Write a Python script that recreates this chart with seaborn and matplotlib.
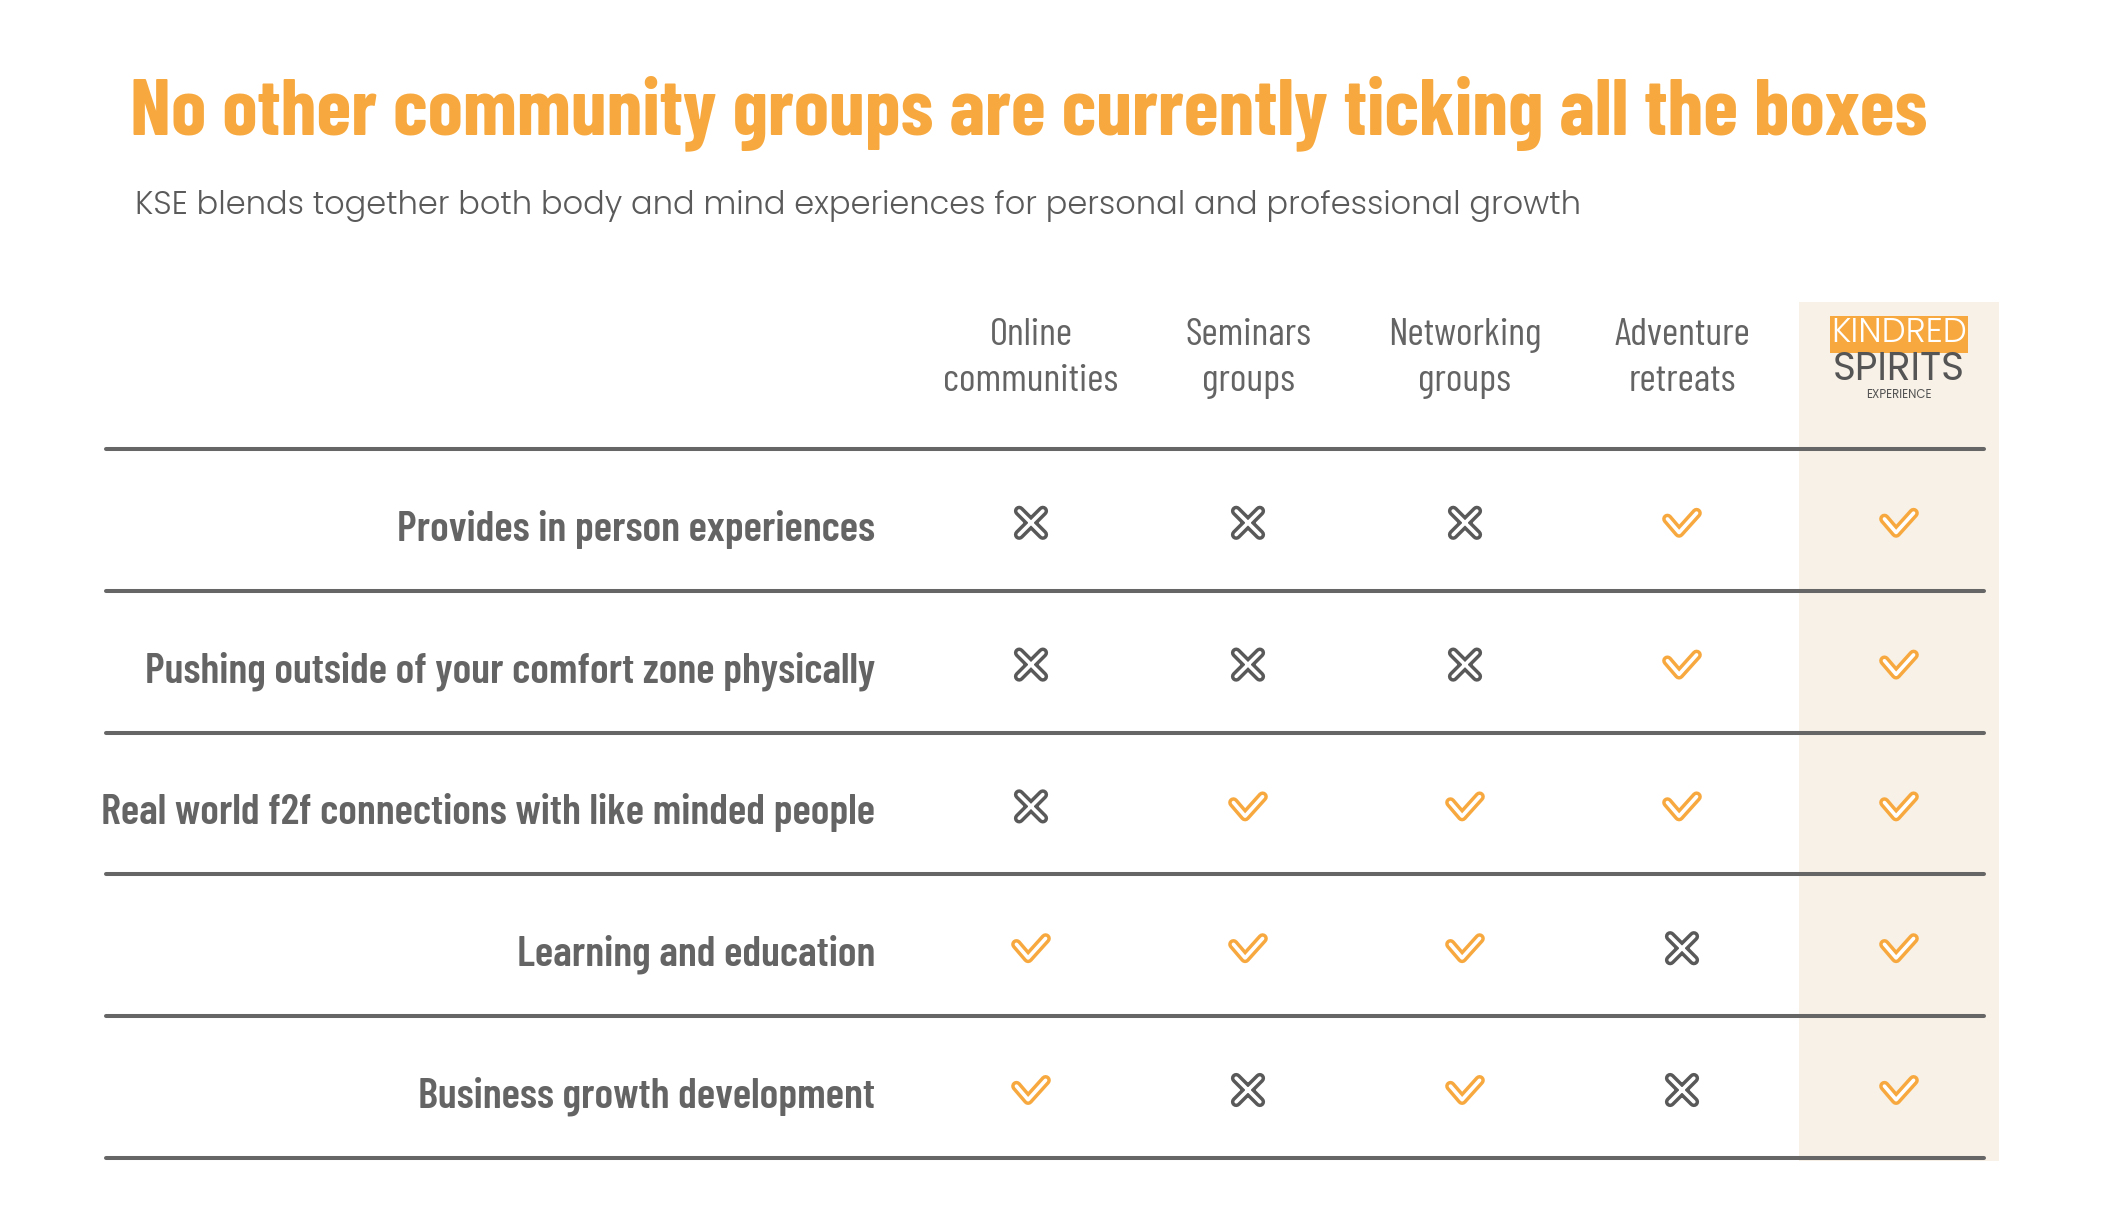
import numpy as np
import pandas as pd
import matplotlib
matplotlib.use("Agg")
import matplotlib.pyplot as plt
import matplotlib.patheffects as pe
from matplotlib.path import Path
from matplotlib.patches import Rectangle
import seaborn as sns

ORANGE = "#F7A93F"
GREY = "#646464"
BEIGE = "#F8F1E7"
COND = ["Barlow Condensed", "Roboto Condensed", "DejaVu Sans"]
WIDE = ["Poppins", "Montserrat Alternates", "Lato", "DejaVu Sans"]

title = "No other community groups are currently ticking all the boxes"
subtitle = "KSE blends together both body and mind experiences for personal and professional growth"

features = [
    "Provides in person experiences",
    "Pushing outside of your comfort zone physically",
    "Real world f2f connections with like minded people",
    "Learning and education",
    "Business growth development",
]
groups = ["Online\ncommunities", "Seminars\ngroups", "Networking\ngroups",
          "Adventure\nretreats", "Kindred Spirits Experience"]

# 1 = ticked, 0 = crossed, one list per column (rows follow `features`)
online_communities = [0, 0, 0, 1, 1]
seminar_groups = [0, 0, 1, 1, 0]
networking_groups = [0, 0, 1, 1, 1]
adventure_retreats = [1, 1, 1, 0, 0]
kindred_spirits = [1, 1, 1, 1, 1]

ticks = pd.DataFrame(
    dict(zip(groups, [online_communities, seminar_groups, networking_groups,
                      adventure_retreats, kindred_spirits])),
    index=features,
)
long = ticks.rename_axis("feature").reset_index().melt(
    id_vars="feature", var_name="group", value_name="ticked")
long["col"] = pd.Categorical(long["group"], categories=groups).codes
long["row"] = pd.Categorical(long["feature"], categories=features).codes

CHECK = Path([(-15, 4), (-3, -10), (15, 10)],
             [Path.MOVETO, Path.LINETO, Path.LINETO])
CROSS = Path([(-1, -1), (1, 1), (-1, 1), (1, -1)],
             [Path.MOVETO, Path.LINETO, Path.MOVETO, Path.LINETO])

sns.set_theme(style="white")
plt.rcParams["font.family"] = COND

fig = plt.figure(figsize=(21.02, 12.32), dpi=100)
ax = fig.add_axes([0, 0, 1, 1])

# highlight column for KSE
k = len(groups) - 1
ax.add_patch(Rectangle((k - 0.46, -1.56), 0.92, 6.06, fc=BEIGE, ec="none", zorder=0))

for value, marker, color, size in [(1, CHECK, ORANGE, 440), (0, CROSS, "#595959", 290)]:
    sub = long[long["ticked"] == value]
    sns.scatterplot(
        data=sub, x="col", y="row", marker=marker, s=size,
        color="white", facecolor="none", edgecolor="white", linewidth=2.6,
        capstyle="round", joinstyle="round", legend=False, ax=ax, zorder=3,
        path_effects=[pe.Stroke(linewidth=7.6, foreground=color,
                                capstyle="round", joinstyle="round"),
                      pe.Normal()],
    )

for y in np.arange(len(features) + 1) - 0.52:
    ax.axhline(y, xmin=106 / 2102, xmax=1984 / 2102, color="#666666", lw=2.9, zorder=2)

for i, name in enumerate(features):
    ax.text(875 / 2102, i + 0.045, name, transform=ax.get_yaxis_transform(),
            ha="right", va="center", fontsize=30.9, fontweight=600, color=GREY)

for i, g in enumerate(groups[:-1]):
    ax.text(i, -1.16, g, ha="center", va="center", fontsize=28.5,
            color=GREY, linespacing=1.42)

# KSE logo as header of the last column
ax.text(k, -1.33, "KINDRED", ha="center", va="center", family=WIDE, fontsize=24.5,
        fontweight=300, color="white",
        bbox=dict(boxstyle="square,pad=0.04", fc=ORANGE, ec="none"))
ax.text(k, -1.005, "SPIRITS", ha="center", va="baseline", family=WIDE,
        fontsize=28, fontweight=400, color="#555555")
ax.text(k, -0.9, "EXPERIENCE", ha="center", va="center", family=WIDE,
        fontsize=8.5, color="#555555")

fig.text(130 / 2102, 1 - 134 / 1232, title, fontsize=57.5, fontweight="bold",
         color=ORANGE, va="baseline")
fig.text(135 / 2102, 1 - 214 / 1232, subtitle, family=WIDE, fontsize=23.1,
         fontweight=300, color="#5a5a5a", va="baseline")

ax.set_xlim(-1031 / 217, (2102 - 1031) / 217)
ax.set_ylim((1232 - 522.8) / 141.8, -522.8 / 141.8)
ax.set_axis_off()

fig.savefig("out.png", dpi=100)
